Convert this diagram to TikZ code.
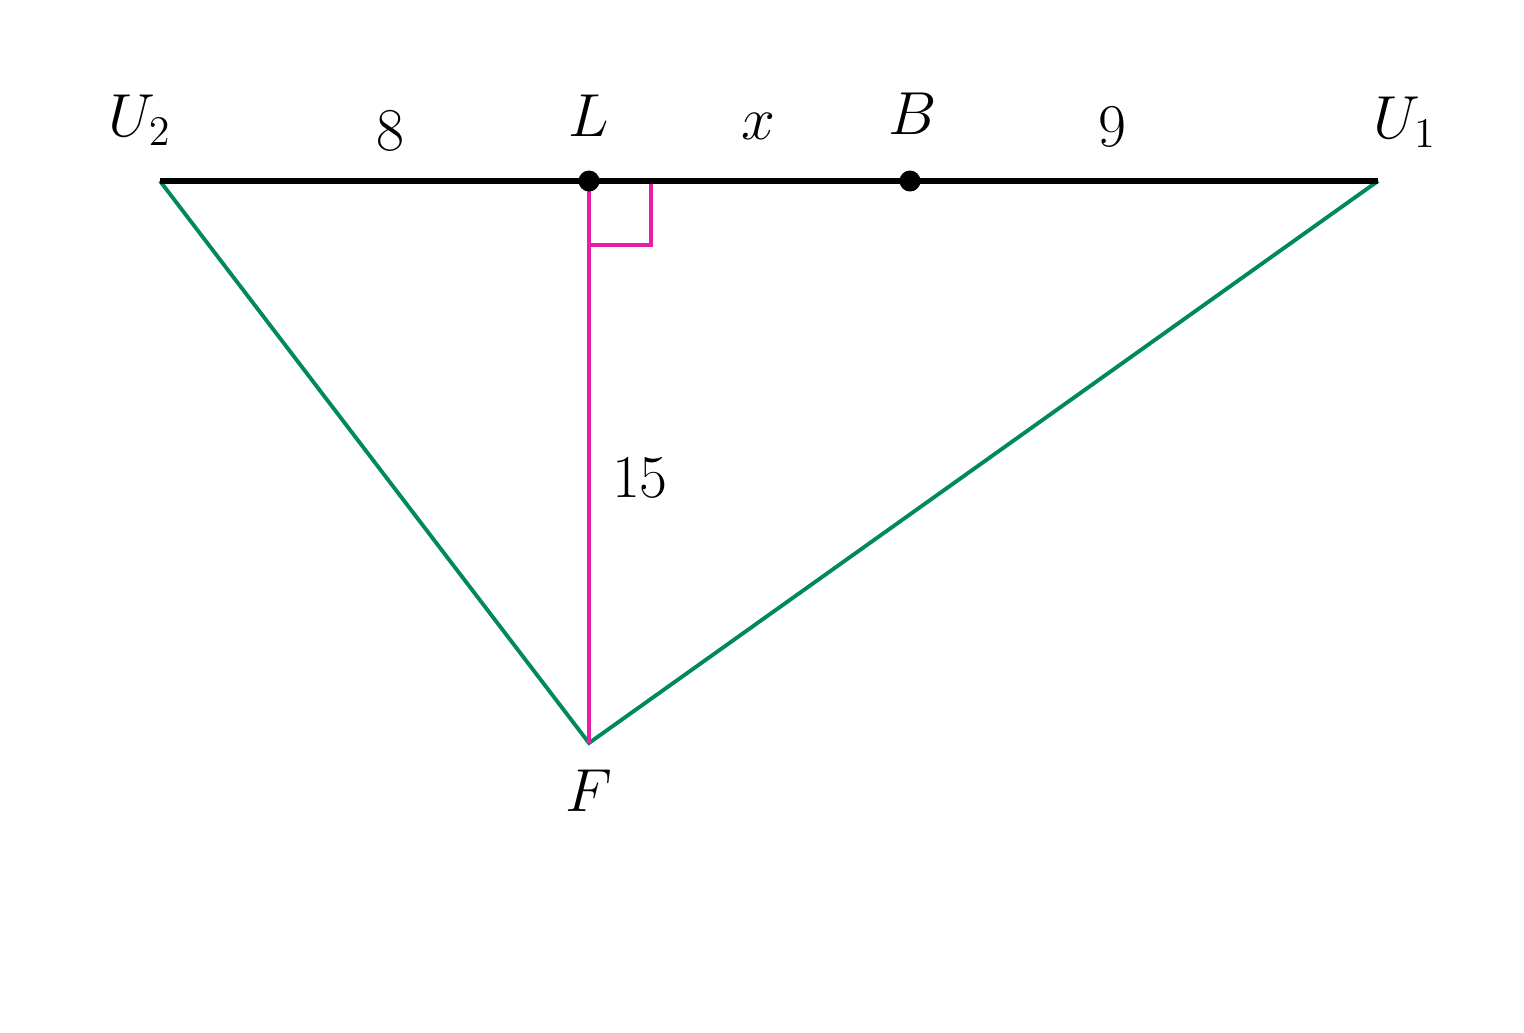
\documentclass[tikz,border=0pt]{standalone}
\usepackage{tikz}
\definecolor{edgegreen}{RGB}{0,137,90}
\definecolor{altmag}{RGB}{230,30,170}
\begin{document}
\begin{tikzpicture}[x=0.01cm,y=-0.01cm,
  lbl/.style={font=\fontsize{16.5}{19}\selectfont, inner sep=0pt},
  base/.style={line width=1.6pt, black},
  side/.style={line width=1.1pt, edgegreen},
  alt/.style={line width=0.95pt, altmag},
  pt/.style={circle, fill=black, inner sep=0pt, minimum size=0.21cm}]
\useasboundingbox (0,0) rectangle (1524,1032);
\coordinate (U2) at (160,181);
\coordinate (U1) at (1378,181);
\coordinate (F) at (589,743);
\coordinate (Lc) at (589,181);
\coordinate (Bc) at (910,181);
\coordinate (R1) at (651,181);
\coordinate (R2) at (651,245);
\coordinate (R3) at (589,245);
\draw[side] (U2) -- (F) -- (U1);
\draw[alt] (Lc) -- (F);
\draw[alt] (R1) -- (R2) -- (R3);
\draw[base] (U2) -- (U1);
\node[pt] (L) at (Lc) {};
\node[pt] (B) at (Bc) {};
\node[lbl] (tU2) at (140,120) {$U_2$};
\node[lbl] (t8) at (390,131) {$8$};
\node[lbl] (tL) at (589,116) {$L$};
\node[lbl] (tx) at (758,126) {$x$};
\node[lbl] (tB) at (913,114) {$B$};
\node[lbl] (t9) at (1112,127) {$9$};
\node[lbl] (tU1) at (1405,122) {$U_1$};
\node[lbl] (t15) at (640,478) {$15$};
\node[lbl] (tF) at (589,791) {$F$};
\end{tikzpicture}
\end{document}
